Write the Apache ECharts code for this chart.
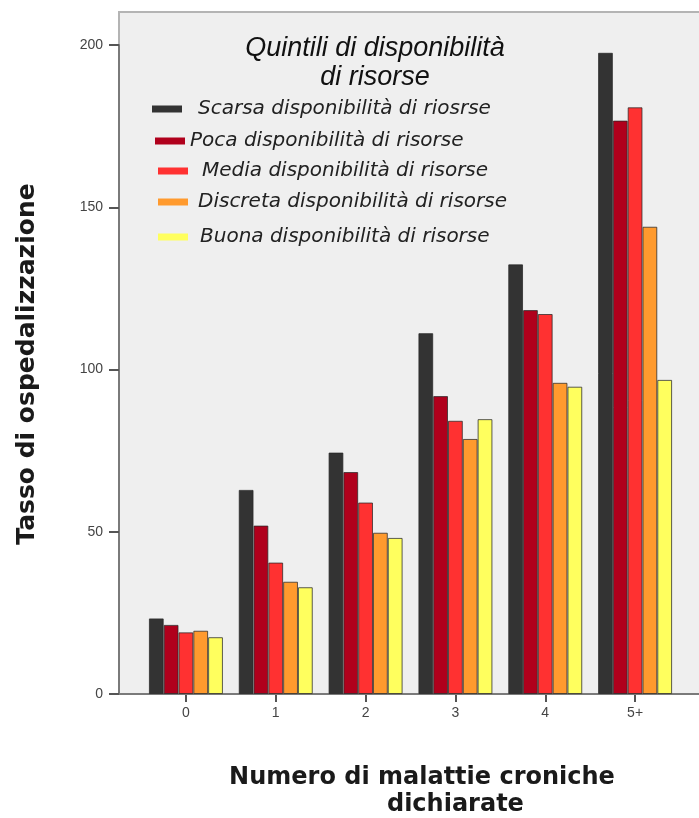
<!DOCTYPE html>
<html lang="it">
  <head>
    <meta charset="UTF-8" />
    <title>Tasso di ospedalizzazione</title>
    <script src="https://cdn.jsdelivr.net/npm/echarts@6/dist/echarts.min.js"></script>
    <style>
      html,
      body {
        margin: 0;
        padding: 0;
        background: #fff;
      }
      #main {
        width: 699px;
        height: 818px;
      }
    </style>
  </head>
  <body>
    <div id="main"></div>
    <script type="text/javascript">
      // dati
      var categorie = ["0", "1", "2", "3", "4", "5+"];
      var nomiSerie = [
        "Scarsa disponibilità di riosrse",
        "Poca disponibilità di risorse",
        "Media disponibilità di risorse",
        "Discreta disponibilità di risorse",
        "Buona disponibilità di risorse",
      ];
      var scarsa = [23.3, 62.9, 74.4, 111.2, 132.4, 197.6];
      var poca = [21.3, 51.9, 68.4, 91.8, 118.3, 176.7];
      var media = [19.0, 40.5, 59.0, 84.2, 117.1, 180.8];
      var discreta = [19.5, 34.6, 49.7, 78.6, 95.9, 144.0];
      var buona = [17.5, 32.9, 48.1, 84.7, 94.7, 96.8];
      var valori = [scarsa, poca, media, discreta, buona];
      var yMin = 0,
        yMax = 200,
        yPasso = 50;

      var colori = ["#333333", "#b0001c", "#ff3131", "#ff9a2e", "#ffff5e"];
      // posizione di ogni voce di legenda (x icona, y centro, spazio testo)
      var legPos = [
        [152, 109, 11],
        [155, 141, 0],
        [158, 171, 9],
        [158, 202, 5],
        [158, 237, 7],
      ];

      var myChart = echarts.init(document.getElementById("main"));

      var series = nomiSerie.map(function (nome, i) {
        return {
          name: nome,
          type: "bar",
          data: valori[i],
          barGap: "0%",
          barCategoryGap: "17.6%",
          itemStyle: {
            color: colori[i],
            borderColor: "rgba(40,40,40,0.75)",
            borderWidth: 1,
          },
          z: 3,
        };
      });

      var legende = nomiSerie.map(function (nome, i) {
        return {
          data: [nome],
          left: legPos[i][0],
          top: legPos[i][1] - 11,
          icon: "rect",
          itemWidth: 30,
          itemHeight: 7,
          padding: 0,
          itemStyle: { borderWidth: 0 },
          selectedMode: false,
          textStyle: {
            fontFamily: "DejaVu Sans",
            fontStyle: "italic",
            fontSize: 20,
            lineHeight: 22,
            color: "#222",
            padding: [0, 0, 0, legPos[i][2]],
          },
        };
      });

      option = {
        animation: false,
        backgroundColor: "#ffffff",
        grid: {
          left: 141,
          right: 19,
          top: 45,
          bottom: 124,
        },
        graphic: [
          {
            type: "rect",
            z: -10,
            silent: true,
            shape: { x: 119, y: 12, width: 600, height: 682 },
            style: { fill: "#efefef", stroke: "#b4b4b4", lineWidth: 2 },
          },
          {
            type: "line",
            z: 1,
            silent: true,
            shape: { x1: 119, y1: 694, x2: 699, y2: 694 },
            style: { stroke: "#7a7a7a", lineWidth: 2 },
          },
          {
            type: "text",
            x: 27,
            y: 364,
            rotation: Math.PI / 2,
            style: {
              text: "Tasso di ospedalizzazione",
              font: "bold 25px 'DejaVu Sans'",
              fill: "#1a1a1a",
              align: "center",
              verticalAlign: "middle",
            },
          },
        ],
        title: [
          {
            text: "Quintili di disponibilità\ndi risorse",
            left: 370,
            top: 29,
            textAlign: "center",
            textStyle: {
              fontFamily: "Liberation Sans",
              fontStyle: "italic",
              fontWeight: "normal",
              fontSize: 27,
              lineHeight: 29,
              color: "#111",
            },
          },
          {
            text: "Numero di malattie croniche\n        dichiarate",
            left: 417,
            top: 759,
            textAlign: "center",
            textStyle: {
              fontFamily: "DejaVu Sans",
              fontWeight: "bold",
              fontSize: 24,
              lineHeight: 27,
              color: "#1a1a1a",
            },
          },
        ],
        legend: legende,
        xAxis: {
          type: "category",
          data: categorie,
          axisLine: { show: false },
          axisTick: {
            show: true,
            alignWithLabel: true,
            length: 8,
            lineStyle: { color: "#555", width: 2 },
          },
          axisLabel: {
            margin: 12,
            fontSize: 14,
            fontFamily: "Liberation Sans",
            color: "#444",
          },
        },
        yAxis: {
          type: "value",
          min: yMin,
          max: yMax,
          interval: yPasso,
          offset: 22,
          axisLine: { show: true, lineStyle: { color: "#7a7a7a", width: 2 } },
          axisTick: { show: true, length: 10, lineStyle: { color: "#555", width: 2 } },
          splitLine: { show: false },
          axisLabel: {
            margin: 16,
            fontSize: 14,
            fontFamily: "Liberation Sans",
            color: "#444",
          },
        },
        series: series,
      };
      myChart.setOption(option);
    </script>
  </body>
</html>
